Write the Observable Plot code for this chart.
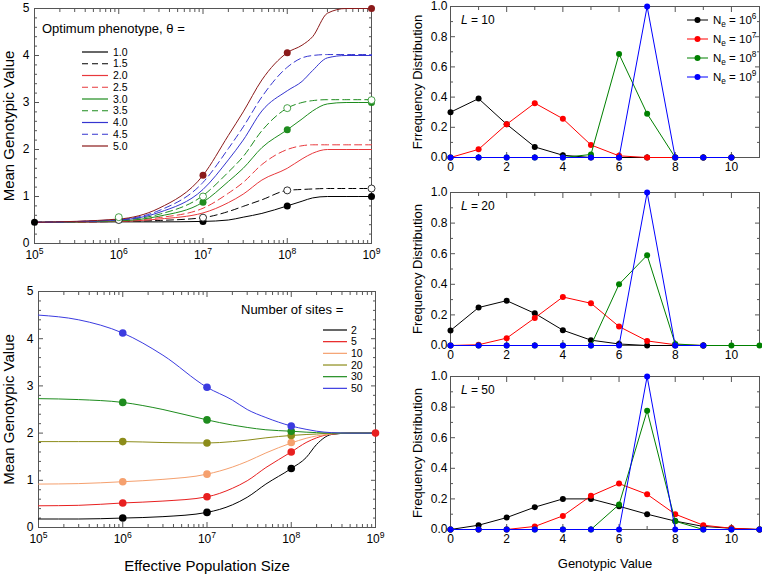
<!DOCTYPE html>
<html><head><meta charset="utf-8">
<script src="https://cdn.jsdelivr.net/npm/d3@7"></script>
<script src="https://cdn.jsdelivr.net/npm/@observablehq/plot@0.6"></script>
<style>
html,body{margin:0;padding:0;background:#fff;}
#chart{position:relative;width:762px;height:574px;overflow:hidden;background:#fff;}
#chart svg{position:absolute;}
</style></head><body><div id="chart"></div>
<script>
// ---------- DATA ----------
// Top-left: mean genotypic value vs Ne for several optimum phenotypes
const NE_TOP = [1e5, 1e6, 3e6, 1e7, 2e7, 3e7, 5e7, 1e8, 1.5e8, 2e8, 3e8, 5e8, 1e9];
const THETA = ["1.0", "1.5", "2.0", "2.5", "3.0", "3.5", "4.0", "4.5", "5.0"];
const THETA_VALUES = [
  [0.45, 0.46, 0.46, 0.47, 0.50, 0.56, 0.64, 0.80, 0.90, 0.97, 1.00, 1.00, 1.00],
  [0.45, 0.47, 0.49, 0.55, 0.68, 0.79, 0.93, 1.13, 1.15, 1.16, 1.17, 1.17, 1.17],
  [0.45, 0.47, 0.52, 0.65, 0.87, 1.05, 1.35, 1.60, 1.80, 1.92, 2.00, 2.00, 2.00],
  [0.45, 0.48, 0.55, 0.75, 1.07, 1.30, 1.68, 2.00, 2.08, 2.10, 2.10, 2.10, 2.10],
  [0.45, 0.48, 0.58, 0.88, 1.32, 1.60, 2.04, 2.42, 2.65, 2.82, 2.97, 3.00, 3.00],
  [0.45, 0.50, 0.62, 1.02, 1.52, 1.85, 2.40, 2.88, 3.00, 3.04, 3.06, 3.06, 3.06],
  [0.45, 0.50, 0.66, 1.15, 1.78, 2.20, 2.82, 3.25, 3.45, 3.68, 3.95, 4.00, 4.00],
  [0.45, 0.51, 0.70, 1.30, 2.02, 2.48, 3.12, 3.75, 3.95, 4.00, 4.02, 4.02, 4.02],
  [0.45, 0.52, 0.75, 1.45, 2.30, 2.80, 3.48, 4.06, 4.22, 4.40, 4.90, 5.00, 5.00]
];
// simulation points (top-left)
const PTS_THETA10_NE = [1e5, 1e7, 1e8, 1e9], PTS_THETA10_V = [0.45, 0.47, 0.80, 1.00];
const PTS_THETA15_NE = [1e6, 1e7, 1e8, 1e9], PTS_THETA15_V = [0.50, 0.55, 1.13, 1.17];
const PTS_THETA30_NE = [1e7, 1e8, 1e9], PTS_THETA30_V = [0.88, 2.42, 3.00];
const PTS_THETA35_NE = [1e6, 1e7, 1e8, 1e9], PTS_THETA35_V = [0.56, 1.00, 2.88, 3.05];
const PTS_THETA50_NE = [1e7, 1e8, 1e9], PTS_THETA50_V = [1.45, 4.06, 5.00];

// Bottom-left: mean genotypic value vs Ne for several numbers of sites
const NE_BOT = [1e5, 3e5, 1e6, 3e6, 1e7, 2e7, 3e7, 5e7, 1e8, 1.5e8, 2e8, 3e8, 5e8, 1e9];
const SITES = ["2", "5", "10", "20", "30", "50"];
const SITE_VALUES = [
  [0.18, 0.18, 0.20, 0.23, 0.32, 0.48, 0.64, 0.92, 1.25, 1.48, 1.76, 1.97, 2.00, 2.00],
  [0.46, 0.47, 0.52, 0.56, 0.65, 0.83, 0.99, 1.27, 1.60, 1.80, 1.90, 1.98, 2.00, 2.00],
  [0.92, 0.93, 0.97, 1.02, 1.13, 1.28, 1.40, 1.58, 1.79, 1.89, 1.94, 1.98, 2.00, 2.00],
  [1.82, 1.82, 1.82, 1.80, 1.79, 1.82, 1.85, 1.90, 1.95, 1.97, 1.98, 2.00, 2.00, 2.00],
  [2.73, 2.71, 2.65, 2.50, 2.28, 2.17, 2.12, 2.07, 2.04, 2.02, 2.01, 2.00, 2.00, 2.00],
  [4.50, 4.40, 4.12, 3.65, 2.97, 2.70, 2.50, 2.33, 2.15, 2.08, 2.04, 2.01, 2.00, 2.00]
];
const BOT_PTS_NE = [1e6, 1e7, 1e8];
const BOT_PTS = [
  [0.20, 0.32, 1.25],
  [0.52, 0.65, 1.60],
  [0.97, 1.13, 1.80],
  [1.82, 1.79, 1.95],
  [2.65, 2.28, 2.04],
  [4.12, 2.97, 2.15]
];
const BOT_END_NE = [1e9], BOT_END_V = [2.00]; // L = 5 at Ne = 1e9

// Right: frequency distributions of genotypic value
const NE_LABELS = ["N_e = 10^6", "N_e = 10^7", "N_e = 10^8", "N_e = 10^9"];
const L10 = [
  [0.30, 0.39, 0.22, 0.07, 0.015, 0, 0, 0, 0, 0, 0],
  [0, 0.054, 0.22, 0.36, 0.257, 0.083, 0.011, 0, 0, 0, 0],
  [0, 0, 0, 0, 0, 0.02, 0.685, 0.29, 0, 0, 0],
  [0, 0, 0, 0, 0, 0, 0, 1.0, 0, 0, 0]
];
const L20 = [
  [0.098, 0.248, 0.293, 0.21, 0.10, 0.035, 0.01, 0, 0, 0],
  [0, 0.005, 0.048, 0.18, 0.317, 0.276, 0.124, 0.03, 0.005, 0],
  [0, 0, 0, 0, 0, 0, 0.40, 0.59, 0.01, 0, 0, 0],
  [0, 0, 0, 0, 0, 0, 0, 1.0, 0, 0]
];
const L50 = [
  [0, 0.028, 0.078, 0.146, 0.20, 0.20, 0.152, 0.10, 0.055, 0.02, 0.008, 0],
  [0, 0, 0, 0.02, 0.089, 0.22, 0.30, 0.23, 0.10, 0.028, 0.008, 0],
  [0, 0, 0, 0, 0, 0, 0.163, 0.776, 0.054, 0, 0, 0],
  [0, 0, 0, 0, 0, 0, 0, 1.0, 0, 0, 0, 0]
];

// ---------- STYLES ----------
const FONT = "'Liberation Sans', Arial, Helvetica, sans-serif";
const AXIS = "#555";
const THETA_COLORS = ["#000000", "#000000", "#e8383c", "#e8383c", "#1e8c1e", "#1e8c1e", "#3535d0", "#3535d0", "#8b1a1a"];
const THETA_DASH = [null, "7,4", null, "7,4", null, "7,4", null, "7,4", null];
const SITE_COLORS = ["#000000", "#e82020", "#f5a06e", "#8c8c1a", "#1e8c1e", "#3b3be0"];
const NE_COLORS = ["#000000", "#ff0000", "#008000", "#0000ff"];
const style = {fontFamily: FONT, fontSize: "12px", background: "transparent", overflow: "visible", color: "black"};

// ---------- HELPERS ----------
function richify(textEl, size) {
  const str = textEl.textContent;
  if (!/[\^_]/.test(str)) return;
  const sel = d3.select(textEl); sel.text(null);
  let cur = 0;
  for (const p of str.split(/(\^[^\s]+|_[^\s]+)/).filter(Boolean)) {
    let target = 0, t = p, fs = null;
    if (p[0] === "^") { target = -0.42 * size; t = p.slice(1); fs = size * 0.72; }
    else if (p[0] === "_") { target = 0.28 * size; t = p.slice(1); fs = size * 0.72; }
    const ts = sel.append("tspan").text(t);
    if (target - cur !== 0) ts.attr("dy", target - cur);
    if (fs) ts.attr("font-size", fs);
    cur = target;
  }
}
function richAll(svg, size) {
  d3.select(svg).selectAll("text").each(function() { richify(this, size); });
}
function axes(o) {
  const c = {stroke: AXIS, fill: "black", label: null};
  const blank = () => "";
  const m = [
    Plot.axisX({...c, ticks: o.xMajor, anchor: "bottom", tickSize: -5, tickPadding: o.xPad, tickFormat: o.xFmt, fontSize: o.fs}),
    Plot.axisX({...c, ticks: o.xMajor, anchor: "top", tickSize: -5, tickFormat: blank}),
    Plot.axisX({...c, ticks: o.xMinor, anchor: "bottom", tickSize: -3, tickFormat: blank}),
    Plot.axisX({...c, ticks: o.xMinor, anchor: "top", tickSize: -3, tickFormat: blank}),
    Plot.axisY({...c, ticks: o.yMajor, anchor: "left", tickSize: -5, tickPadding: o.yPad, tickFormat: o.yFmt, fontSize: o.fs}),
    Plot.axisY({...c, ticks: o.yMajor, anchor: "right", tickSize: -5, tickFormat: blank}),
    Plot.axisY({...c, ticks: o.yMinor, anchor: "left", tickSize: -3, tickFormat: blank}),
    Plot.axisY({...c, ticks: o.yMinor, anchor: "right", tickSize: -3, tickFormat: blank})
  ];
  if (o.xLabel) m.push(Plot.axisX({ticks: [], anchor: "bottom", tickSize: 0, label: o.xLabel, labelAnchor: "center", labelArrow: "none", labelOffset: o.xLabelOffset, fontSize: o.titleSize, fill: "black"}));
  if (o.yLabel) m.push(Plot.axisY({ticks: [], anchor: "left", tickSize: 0, label: o.yLabel, labelAnchor: "center", labelArrow: "none", labelOffset: o.yLabelOffset, fontSize: o.titleSize, fill: "black"}));
  return m;
}
function place(svg, left, top) {
  svg.style.position = "absolute"; svg.style.left = left + "px"; svg.style.top = top + "px";
  document.getElementById("chart").append(svg);
}
const LOG_MAJOR = [1e5, 1e6, 1e7, 1e8, 1e9];
const LOG_MINOR = d3.range(5, 9).flatMap(k => d3.range(2, 10).map(m => m * Math.pow(10, k)));
const logFmt = d => "10^" + Math.round(Math.log10(d));
const Y5_MAJOR = d3.range(0, 6);
const Y5_MINOR = d3.range(0, 25).map(i => i * 0.2).filter(v => Math.abs(v - Math.round(v)) > 1e-6);
const pts = (ne, v) => ne.map((n, i) => ({ne: n, v: v[i]}));
const legendGroup = () => d3.create("svg:g").attr("font-family", FONT).attr("fill", "black").attr("text-anchor", "start");

// ---------- TOP-LEFT ----------
{
  const marks = [
    ...axes({xMajor: LOG_MAJOR, xMinor: LOG_MINOR, yMajor: Y5_MAJOR, yMinor: Y5_MINOR, xFmt: logFmt, yFmt: d3.format("d"),
      fs: 12, xPad: 12, yPad: 10, yLabel: "Mean Genotypic Value", yLabelOffset: 31, titleSize: 15}),
    Plot.frame({stroke: AXIS})
  ];
  THETA.forEach((t, i) => {
    const d = NE_TOP.map((ne, j) => ({ne, v: THETA_VALUES[i][j]}));
    const opt = {x: "ne", y: "v", stroke: THETA_COLORS[i], strokeWidth: 1, curve: "monotone-x"};
    if (THETA_DASH[i]) opt.strokeDasharray = THETA_DASH[i];
    marks.push(Plot.line(d, opt));
  });
  marks.push(
    Plot.dot(pts(PTS_THETA10_NE, PTS_THETA10_V), {x: "ne", y: "v", r: 3.5, fill: "#000"}),
    Plot.dot(pts(PTS_THETA15_NE, PTS_THETA15_V), {x: "ne", y: "v", r: 3.5, fill: "#fff", stroke: "#000", strokeWidth: 0.8}),
    Plot.dot(pts(PTS_THETA30_NE, PTS_THETA30_V), {x: "ne", y: "v", r: 3.5, fill: "#1e8c1e"}),
    Plot.dot(pts(PTS_THETA35_NE, PTS_THETA35_V), {x: "ne", y: "v", r: 3.5, fill: "#fff", stroke: "#1e8c1e", strokeWidth: 0.8}),
    Plot.dot(pts(PTS_THETA50_NE, PTS_THETA50_V), {x: "ne", y: "v", r: 3.5, fill: "#8b1a1a"})
  );
  marks.push(() => {
    const g = legendGroup();
    g.append("text").attr("x", 42).attr("y", 33).attr("font-size", 13).text("Optimum phenotype, θ =");
    THETA.forEach((t, i) => {
      const y = 52 + i * 11.75;
      const ln = g.append("line").attr("x1", 82).attr("x2", 108).attr("y1", y).attr("y2", y)
        .attr("stroke", THETA_COLORS[i]).attr("stroke-width", 1.2);
      if (THETA_DASH[i]) ln.attr("stroke-dasharray", "6,4");
      g.append("text").attr("x", 113).attr("y", y).attr("dy", "0.35em").attr("font-size", 10.5).text(t);
    });
    return g.node();
  });
  const svg = Plot.plot({width: 380, height: 280, marginLeft: 34, marginRight: 9, marginTop: 8, marginBottom: 37,
    x: {type: "log", domain: [1e5, 1e9]}, y: {domain: [0, 5]}, style, marks});
  richAll(svg, 12);
  place(svg, 0, 0);
}

// ---------- BOTTOM-LEFT ----------
{
  const marks = [
    ...axes({xMajor: LOG_MAJOR, xMinor: LOG_MINOR, yMajor: Y5_MAJOR, yMinor: Y5_MINOR, xFmt: logFmt, yFmt: d3.format("d"),
      fs: 12, xPad: 12, yPad: 10, xLabel: "Effective Population Size", xLabelOffset: 43,
      yLabel: "Mean Genotypic Value", yLabelOffset: 35, titleSize: 15}),
    Plot.frame({stroke: AXIS})
  ];
  SITES.forEach((s, i) => {
    const d = NE_BOT.map((ne, j) => ({ne, v: SITE_VALUES[i][j]}));
    marks.push(Plot.line(d, {x: "ne", y: "v", stroke: SITE_COLORS[i], strokeWidth: 1, curve: "monotone-x"}));
  });
  SITES.forEach((s, i) => {
    marks.push(Plot.dot(pts(BOT_PTS_NE, BOT_PTS[i]), {x: "ne", y: "v", r: 3.8, fill: SITE_COLORS[i]}));
  });
  marks.push(Plot.dot(pts(BOT_END_NE, BOT_END_V), {x: "ne", y: "v", r: 3.8, fill: SITE_COLORS[1]}));
  marks.push(() => {
    const g = legendGroup();
    g.append("text").attr("x", 241).attr("y", 34).attr("font-size", 13).text("Number of sites =");
    SITES.forEach((s, i) => {
      const y = 50 + i * 11.67;
      g.append("line").attr("x1", 323).attr("x2", 347).attr("y1", y).attr("y2", y)
        .attr("stroke", SITE_COLORS[i]).attr("stroke-width", 1.2);
      g.append("text").attr("x", 351).attr("y", y).attr("dy", "0.35em").attr("font-size", 10.5).text(s);
    });
    return g.node();
  });
  const svg = Plot.plot({width: 380, height: 294, marginLeft: 38, marginRight: 5, marginTop: 11, marginBottom: 47,
    x: {type: "log", domain: [1e5, 1e9]}, y: {domain: [0, 5]}, style, marks});
  richAll(svg, 12);
  place(svg, 0, 280);
}

// ---------- RIGHT PANELS ----------
function distPanel(cfg) {
  const marks = [
    ...axes({xMajor: [0, 2, 4, 6, 8, 10], xMinor: [1, 3, 5, 7, 9], yMajor: d3.range(0, 6).map(i => i * 0.2),
      yMinor: d3.range(0, 5).map(i => i * 0.2 + 0.1), xFmt: d3.format("d"), yFmt: d3.format(".1f"),
      fs: 12, xPad: 10, yPad: 8, xLabel: cfg.xTitle, xLabelOffset: 38,
      yLabel: cfg.yTitle, yLabelOffset: 38, titleSize: 13}),
    Plot.frame({stroke: AXIS})
  ];
  cfg.series.forEach((vals, i) => {
    const d = vals.map((v, x) => ({gv: x, f: v}));
    marks.push(Plot.line(d, {x: "gv", y: "f", stroke: NE_COLORS[i], strokeWidth: 1}));
    marks.push(Plot.dot(d, {x: "gv", y: "f", r: 3, fill: NE_COLORS[i]}));
  });
  marks.push((index, scales, values, dim) => {
    const g = legendGroup();
    const t = g.append("text").attr("x", 81).attr("y", dim.marginTop + 14).attr("dy", "0.35em").attr("font-size", 12);
    t.append("tspan").attr("font-style", "italic").text("L");
    t.append("tspan").text(" = " + cfg.L);
    if (cfg.legend) {
      NE_LABELS.forEach((lab, i) => {
        const y = 20 + i * 19;
        g.append("line").attr("x1", 307).attr("x2", 328).attr("y1", y).attr("y2", y).attr("stroke", NE_COLORS[i]);
        g.append("circle").attr("cx", 317.5).attr("cy", y).attr("r", 3).attr("fill", NE_COLORS[i]);
        const tx = g.append("text").attr("x", 333).attr("y", y).attr("dy", "0.35em").attr("font-size", 11.5).text(lab);
        richify(tx.node(), 11.5);
      });
    }
    return g.node();
  });
  const svg = Plot.plot({width: 382, height: cfg.height, marginLeft: 70, marginRight: 3,
    marginTop: cfg.marginTop, marginBottom: cfg.marginBottom,
    x: {domain: [0, 11]}, y: {domain: [0, 1]}, style, marks});
  place(svg, 380, cfg.top);
}
distPanel({series: L10, L: 10, top: 0, height: 184, marginTop: 6, marginBottom: 27, yTitle: "Frrequency Distribution", legend: true});
distPanel({series: L20, L: 20, top: 186, height: 184, marginTop: 6, marginBottom: 25, yTitle: "Frequency Distribution"});
distPanel({series: L50, L: 50, top: 370, height: 204, marginTop: 6, marginBottom: 45, yTitle: "Frequency Distribution", xTitle: "Genotypic Value"});
</script>
</body></html>
